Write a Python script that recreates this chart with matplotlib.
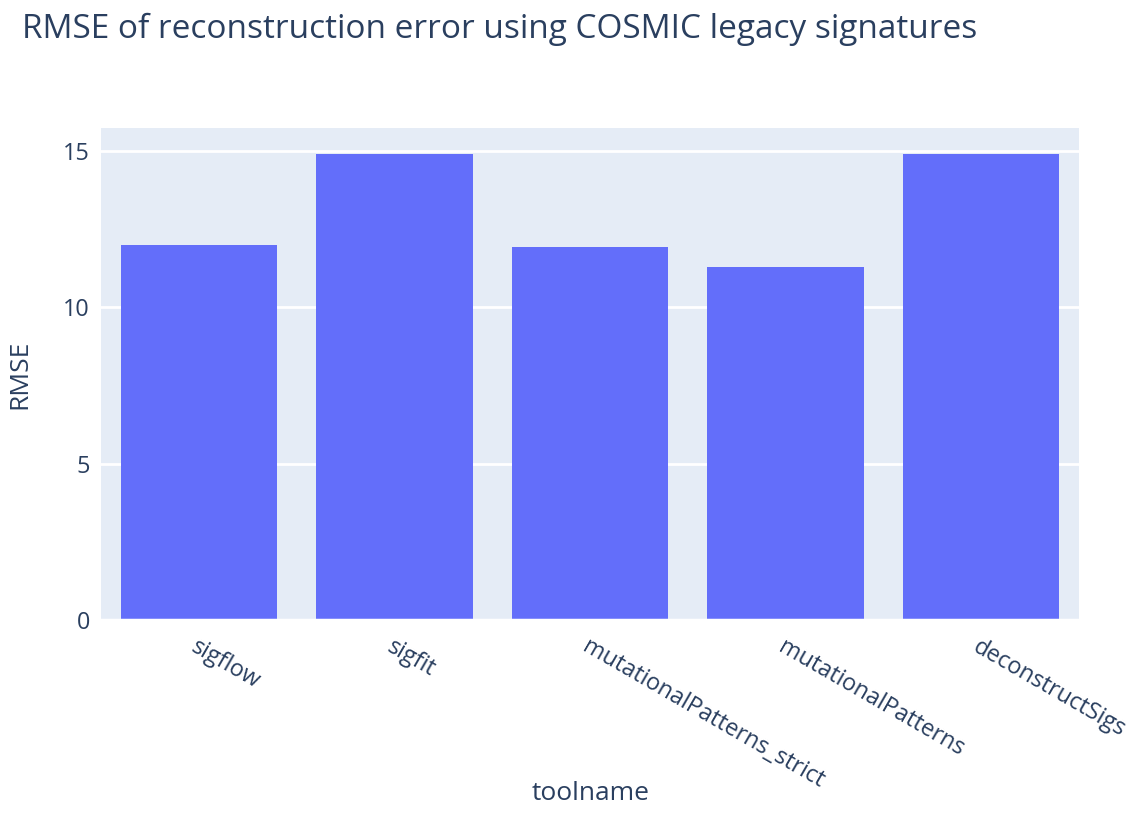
import matplotlib
matplotlib.use("Agg")
from matplotlib import pyplot as plt
import numpy as np

# data
toolnames = ['sigflow', 'sigfit', 'mutationalPatterns_strict', 'mutationalPatterns', 'deconstructSigs']
rmse = [11.98, 14.90, 11.92, 11.28, 14.90]

text_col = '#2a3f5f'
plt.rcParams['font.family'] = ['Open Sans', 'DejaVu Sans']

fig = plt.figure(figsize=(11.37, 8.4), dpi=100)
ax = fig.add_axes([0.0888, 0.2619, 0.8602, 0.5857])
ax.set_facecolor('#E5ECF6')

x = np.arange(len(toolnames))
ax.bar(x, rmse, width=0.8, color='#636EFA', zorder=3)

ax.set_xlim(-0.5, len(toolnames) - 0.5)
ax.set_ylim(0, 15.73)
ax.set_yticks([0, 5, 10, 15])
ax.grid(axis='y', color='white', linewidth=2, zorder=1)
ax.axhline(0, color='white', linewidth=2.5, zorder=4)

for s in ax.spines.values():
    s.set_visible(False)
ax.tick_params(length=0, labelsize=16.8, labelcolor=text_col)
ax.tick_params(axis='y', pad=8)
ax.set_xticks(x)
ax.set_xticklabels(toolnames, rotation=-30, ha='left', va='top', rotation_mode='anchor')
ax.tick_params(axis='x', pad=11)

ax.set_ylabel('RMSE', fontsize=19, color=text_col, labelpad=22)
fig.text(591 / 1137, 1 - 793 / 840, 'toolname', fontsize=19, color=text_col, ha='center', va='center')
fig.text(22 / 1137, 1 - 29 / 840, 'RMSE of reconstruction error using COSMIC legacy signatures',
         fontsize=24, color=text_col, ha='left', va='center')

fig.savefig('out.png', dpi=100)
